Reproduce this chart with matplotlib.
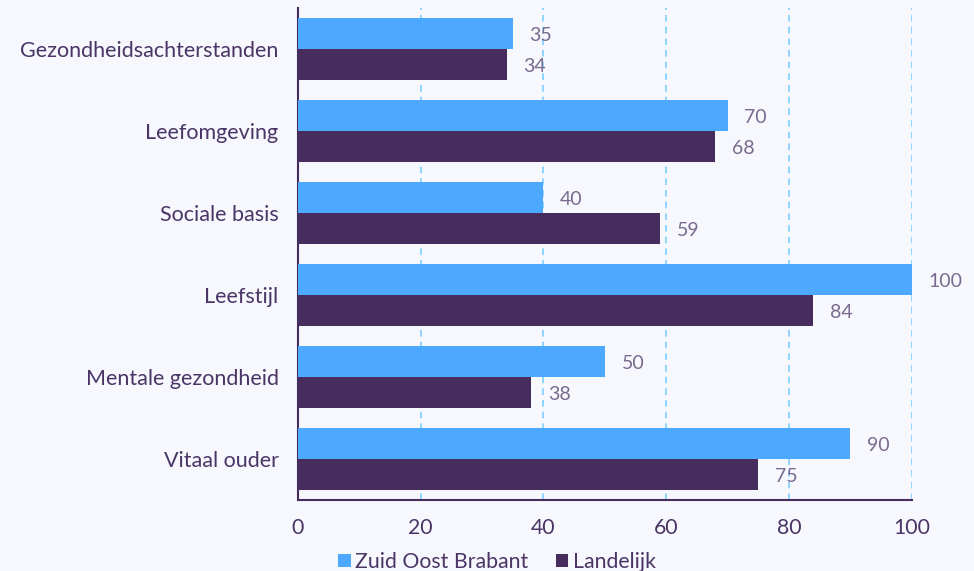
import matplotlib.pyplot as plt
import numpy as np

plt.rcParams['font.family'] = ['Lato', 'DejaVu Sans']

categories = ['Gezondheidsachterstanden', 'Leefomgeving', 'Sociale basis',
              'Leefstijl', 'Mentale gezondheid', 'Vitaal ouder']
zuid_oost = [35, 70, 40, 100, 50, 90]
landelijk = [34, 68, 59, 84, 38, 75]

bg = '#f6f8fd'
blue = '#4da9ff'
purple = '#472c5e'
text_col = '#4a3566'
label_col = '#7a6a8f'

fig = plt.figure(figsize=(9.74, 5.71), dpi=100, facecolor=bg)
ax = fig.add_axes([0.306, 0.124, 0.630, 0.862], facecolor=bg)

y = np.arange(len(categories))
h = 0.375
b1 = ax.barh(y - h / 2, zuid_oost, height=h, color=blue, label='Zuid Oost Brabant', zorder=3)
b2 = ax.barh(y + h / 2, landelijk, height=h, color=purple, label='Landelijk', zorder=3)

for bars, vals in ((b1, zuid_oost), (b2, landelijk)):
    for bar, v in zip(bars, vals):
        ax.annotate(str(v), (bar.get_width(), bar.get_y() + bar.get_height() / 2),
                    xytext=(12, -1.5), textcoords='offset points', ha='left', va='center',
                    fontsize=14, color=label_col, annotation_clip=False)

ax.set_ylim(len(categories) - 0.5, -0.5)
ax.set_xlim(0, 100)
ax.set_yticks(y)
ax.set_yticklabels(categories, fontsize=15.5, color=text_col)
ax.set_xticks([0, 20, 40, 60, 80, 100])
ax.tick_params(axis='x', length=0, pad=13, labelsize=15.3, labelcolor=text_col)
ax.tick_params(axis='y', length=0, pad=14)

ax.grid(axis='x', color='#7fcfff', linestyle=(0, (4, 3)), linewidth=1.2, zorder=1)
ax.set_axisbelow(True)
for s in ('top', 'right'):
    ax.spines[s].set_visible(False)
for s in ('left', 'bottom'):
    ax.spines[s].set_color(purple)
    ax.spines[s].set_linewidth(1.5)

fig.legend(handles=[b1, b2], loc='lower center', bbox_to_anchor=(0.51, -0.035), ncol=2,
           frameon=False, fontsize=15.3, handlelength=0.6, handleheight=0.6,
           handletextpad=0.2, columnspacing=1.3, labelcolor=text_col)

fig.savefig('out.png', dpi=100, facecolor=bg)
